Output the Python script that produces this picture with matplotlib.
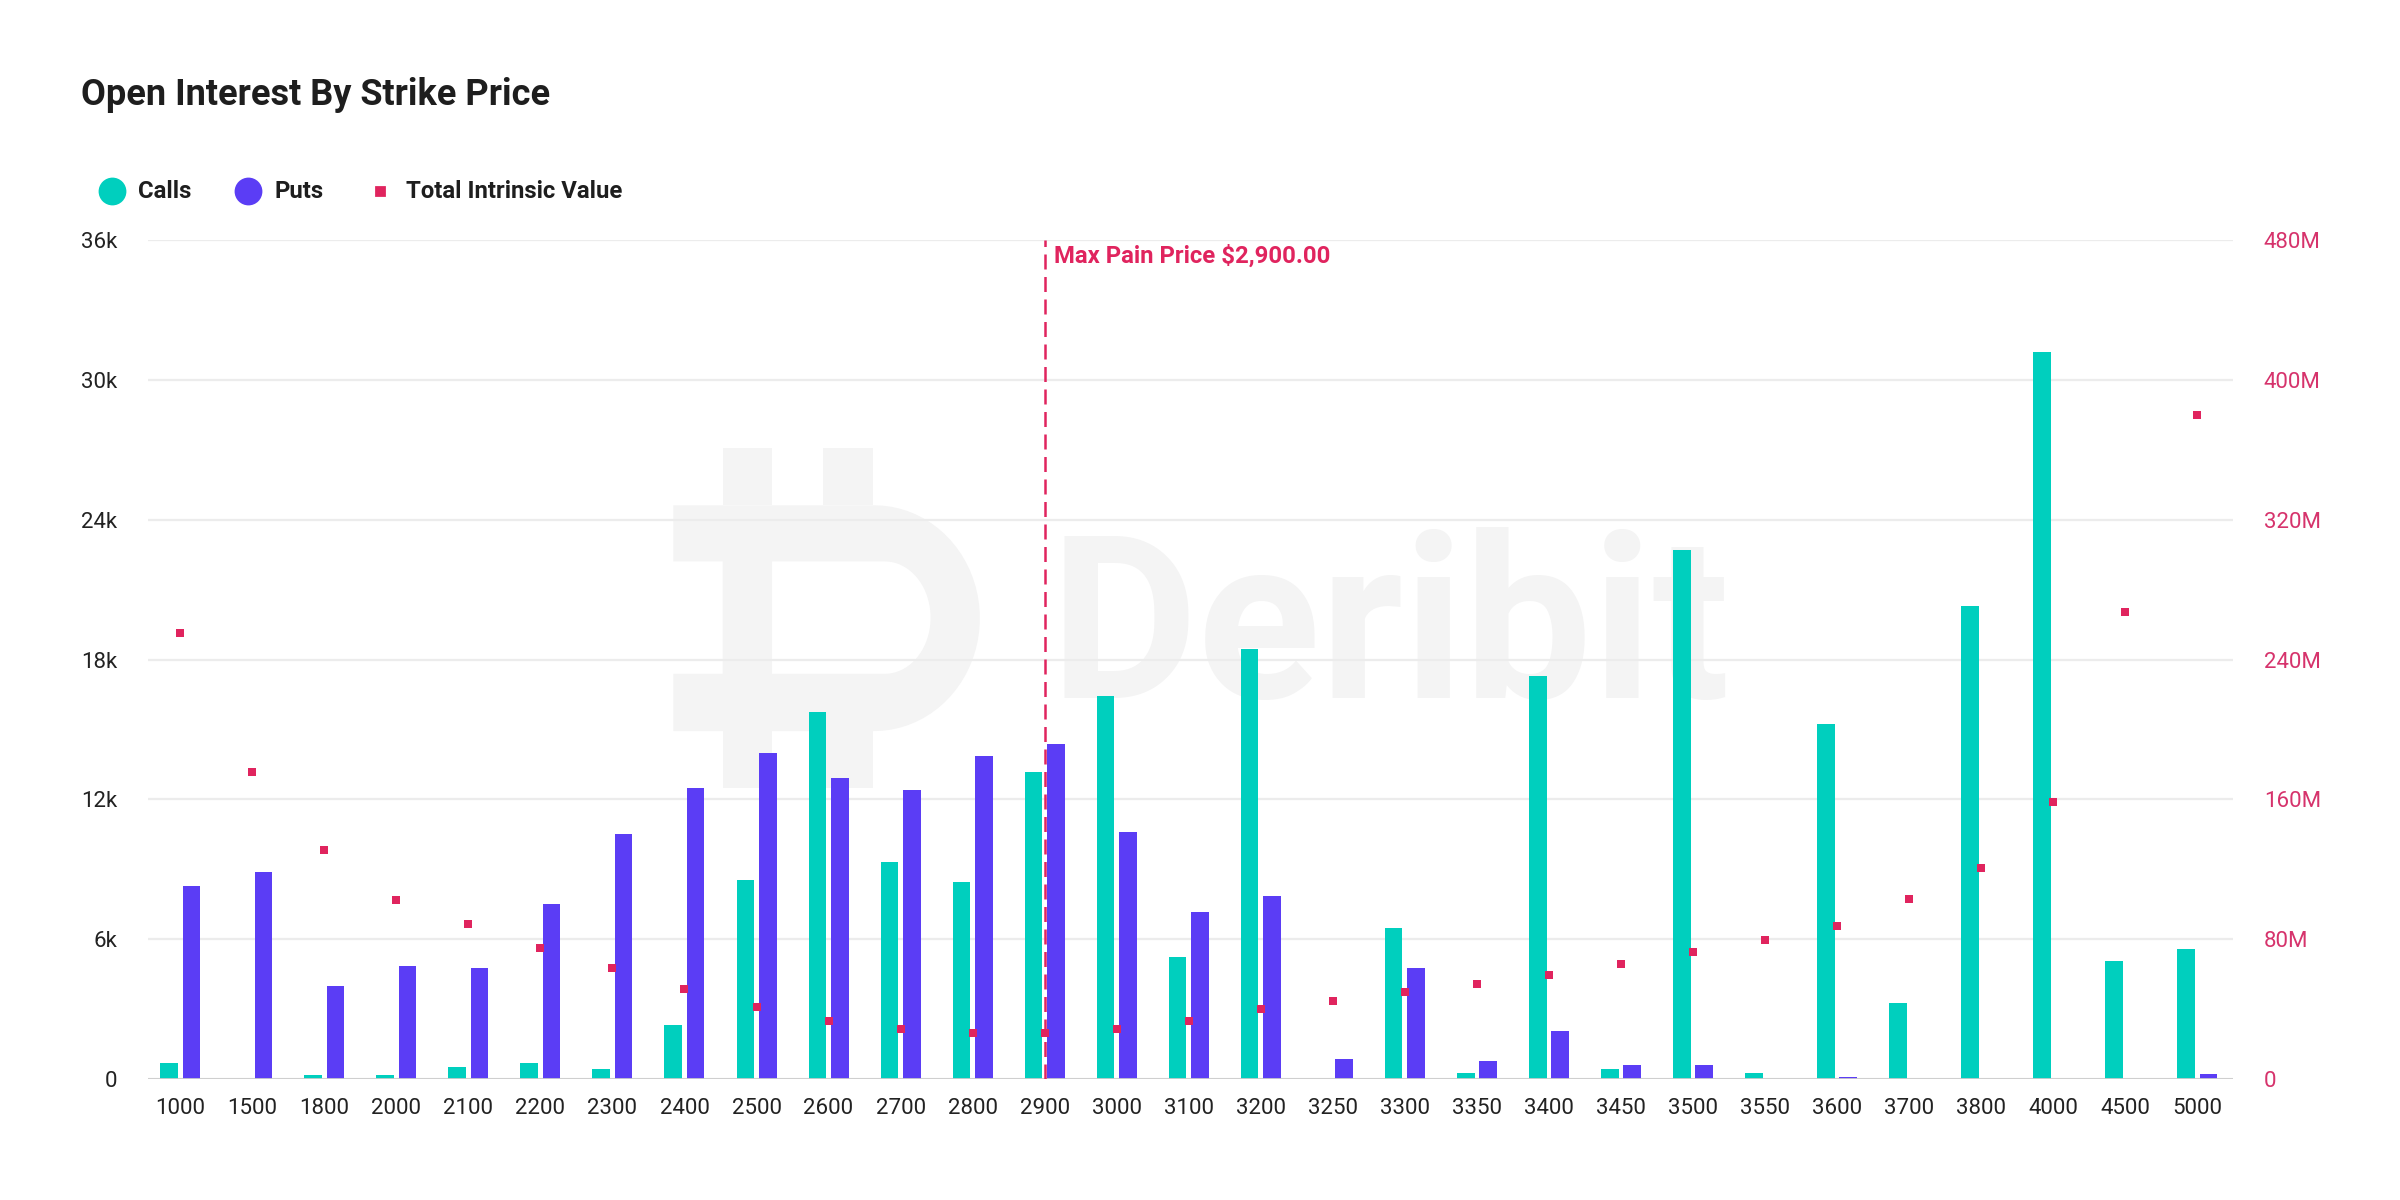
"""Deribit風の行使価格別建玉チャートを描画する."""

import matplotlib.pyplot as plt
import numpy as np
from matplotlib.lines import Line2D
from matplotlib.patches import PathPatch, Rectangle
from matplotlib.path import Path
from matplotlib.ticker import FuncFormatter, MultipleLocator

plt.rcParams["font.family"] = ["Roboto", "DejaVu Sans"]

# データ
strikes = ["1000", "1500", "1800", "2000", "2100", "2200", "2300", "2400", "2500",
           "2600", "2700", "2800", "2900", "3000", "3100", "3200", "3250", "3300",
           "3350", "3400", "3450", "3500", "3550", "3600", "3700", "3800", "4000",
           "4500", "5000"]
calls = [680, 0, 180, 180, 510, 700, 440, 2330, 8540, 15760, 9310, 8450, 13190,
         16460, 5240, 18440, 0, 6470, 240, 17320, 440, 22730, 240, 15250, 3260,
         20300, 31210, 5060, 5590]
puts = [8280, 8890, 3980, 4840, 4750, 7500, 10520, 12500, 13980, 12940, 12410,
        13870, 14390, 10610, 7160, 7840, 860, 4750, 790, 2070, 600, 600, 0, 90,
        0, 0, 0, 0, 230]
# 単位: 百万ドル
intrinsic = [255, 176, 131, 102.4, 88.7, 74.8, 63.3, 51.8, 41.5, 33.5, 28.8, 26.6,
             26.6, 28.8, 33.5, 40.3, 44.9, 49.6, 54.2, 59.8, 65.7, 72.5, 79.4, 87.4,
             103.2, 120.6, 158.5, 267.3, 379.8]
max_pain = "2900"

TEAL = "#00cfbe"
PURPLE = "#5b3df5"
PINK = "#e0245e"
PINK_TXT = "#d6336c"
GRID = "#ececec"
WM = "#f4f4f4"


def add_watermark(ax):
    """背景のDeribitロゴを描く."""
    x0, x1 = 0.252, 0.399
    y0, y1 = 0.752, 0.347

    def tr(u, v):
        return (x0 + np.asarray(u) / 435 * (x1 - x0),
                y0 - np.asarray(v) / 907 * (y0 - y1))

    t = np.linspace(np.pi / 2, -np.pi / 2, 40)
    # 外形
    ou = [0, 285] + list(285 + 150 * np.cos(t)) + [285, 0, 0, 70, 70, 0]
    ov = [152, 152] + list(453.5 - 301.5 * np.sin(t)) + [755, 755, 602, 602, 302, 302]
    # 内側の穴（逆向き）
    iu = [140, 300] + list(300 + 65 * np.cos(t)) + [300, 140]
    iv = [302, 302] + list(452 - 150 * np.sin(t)) + [602, 602]
    iu, iv = iu[::-1], iv[::-1]

    ox, oy = tr(ou, ov)
    ix, iy = tr(iu, iv)
    verts = list(zip(ox, oy)) + [(ox[0], oy[0])] + list(zip(ix, iy)) + [(ix[0], iy[0])]
    codes = ([Path.MOVETO] + [Path.LINETO] * (len(ox) - 1) + [Path.CLOSEPOLY]
             + [Path.MOVETO] + [Path.LINETO] * (len(ix) - 1) + [Path.CLOSEPOLY])
    ax.add_patch(PathPatch(Path(verts, codes), facecolor=WM, edgecolor="none",
                           transform=ax.transAxes, zorder=0.1))
    for (ua, ub, va, vb) in [(70, 140, 0, 152), (213, 283, 0, 152),
                             (70, 140, 755, 907), (213, 283, 755, 907)]:
        (xa, xb), (ya, yb) = tr([ua, ub], [va, vb])
        ax.add_patch(Rectangle((xa, yb), xb - xa, ya - yb, facecolor=WM,
                               edgecolor="none", transform=ax.transAxes, zorder=0.1))
    ax.text(0.4326, 0.454, "Deribit", transform=ax.transAxes, fontsize=82,
            fontweight="bold", color=WM, ha="left", va="baseline", zorder=0.1)


def main():
    fig = plt.figure(figsize=(12, 6), dpi=200)
    ax = fig.add_axes([0.0616, 0.1008, 0.8689, 0.6989])
    ax2 = ax.twinx()

    x = np.arange(len(strikes))
    w = 0.245
    ax.bar(x - 0.155, calls, width=w, color=TEAL, zorder=2)
    ax.bar(x + 0.155, puts, width=w, color=PURPLE, zorder=2)
    ax2.scatter(x, intrinsic, marker="s", s=10, color=PINK, zorder=4, linewidths=0)

    ax.set_xlim(-0.45, len(strikes) - 0.5)
    ax.set_ylim(0, 36000)
    ax2.set_ylim(0, 480)
    ax.set_xticks(x)
    ax.set_xticklabels(strikes)
    ax.yaxis.set_major_locator(MultipleLocator(6000))
    ax2.yaxis.set_major_locator(MultipleLocator(80))
    ax.yaxis.set_major_formatter(
        FuncFormatter(lambda v, p: "0" if v == 0 else f"{v / 1000:.0f}k"))
    ax2.yaxis.set_major_formatter(
        FuncFormatter(lambda v, p: "0" if v == 0 else f"{v:.0f}M"))

    ax.set_axisbelow(True)
    ax.grid(axis="y", color=GRID, linewidth=0.8, zorder=0.5)
    for a in (ax, ax2):
        for s in a.spines.values():
            s.set_visible(False)
    ax.axhline(0, color="#cccccc", linewidth=1.0, zorder=2.5)

    ax.tick_params(axis="x", length=0, pad=7, labelsize=8, labelcolor="#222222")
    ax.tick_params(axis="y", length=0, pad=11, labelsize=8, labelcolor="#222222")
    ax2.tick_params(axis="y", length=0, pad=11, labelsize=8, labelcolor=PINK_TXT)

    add_watermark(ax)

    # 最大ペイン価格
    mp = strikes.index(max_pain)
    ax.axvline(mp, color=PINK, linewidth=0.9, linestyle=(0, (6, 3)), zorder=3)
    ax.annotate(r"Max Pain Price \$2,900.00", xy=(mp, 36000), xytext=(3.5, -1.5),
                textcoords="offset points", ha="left", va="top", fontsize=8.6,
                fontweight="bold", color=PINK, zorder=5)

    # タイトルと凡例
    fig.text(0.0338, 0.921, "Open Interest By Strike Price", fontsize=13,
             fontweight="bold", color="#1e1e1e", ha="left", va="center")
    ly = 0.8406
    items = [(0.0466, 0.0574, "o", 9, TEAL, "Calls"),
             (0.1033, 0.1142, "o", 9, PURPLE, "Puts"),
             (0.1582, 0.169, "s", 2.8, PINK, "Total Intrinsic Value")]
    for mx, tx, mk, ms, col, lab in items:
        fig.add_artist(Line2D([mx], [ly], transform=fig.transFigure, marker=mk,
                              markersize=ms, color=col, linestyle="none"))
        fig.text(tx, ly, lab, fontsize=8.6, fontweight="bold", color="#1e1e1e",
                 ha="left", va="center")

    fig.savefig("out.png", dpi=200, facecolor="white")


if __name__ == "__main__":
    main()
